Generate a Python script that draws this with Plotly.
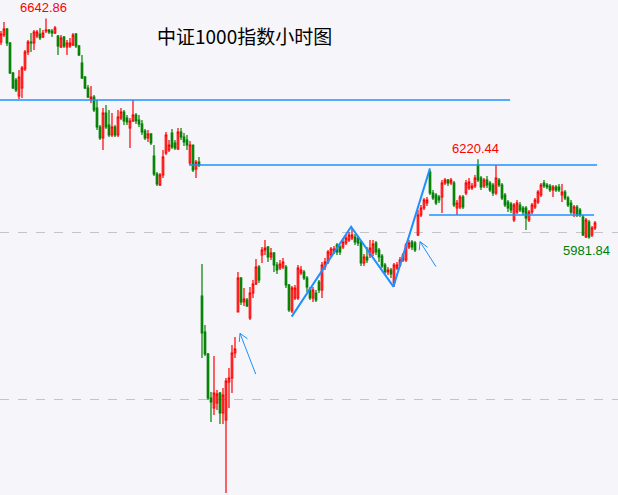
import plotly.graph_objects as go

# ---------------- data (hourly candles, CSI 1000) ----------------
open_ = [
    6572, 6593, 6611, 6569, 6479, 6458, 6410, 6434, 6491, 6542,
    6572, 6569, 6590, 6596, 6587, 6605, 6608, 6605, 6599, 6590,
    6557, 6587, 6557, 6560, 6563, 6596, 6560, 6509, 6467, 6434,
    6401, 6407, 6374, 6317, 6284, 6359, 6323, 6293, 6317, 6293,
    6344, 6362, 6344, 6314, 6335, 6353, 6338, 6326, 6305, 6284,
    6296, 6230, 6176, 6143, 6173, 6239, 6248, 6299, 6269, 6251,
    6302, 6287, 6278, 6209, 6263, 6191, 6212, 5810, 5702, 5636,
    5504, 5474, 5489, 5519, 5459, 5438, 5552, 5564, 5639, 5762,
    5864, 5792, 5798, 5744, 5819, 5846, 5897, 5933, 5948, 5957,
    5927, 5939, 5903, 5894, 5897, 5897, 5843, 5765, 5804, 5804,
    5879, 5882, 5864, 5831, 5804, 5819, 5852, 5828, 5897, 5912,
    5933, 5942, 5963, 5957, 5957, 5969, 5978, 5984, 5987, 5984,
    5972, 5909, 5927, 5933, 5939, 5969, 5948, 5930, 5903, 5882,
    5888, 5849, 5894, 5903, 5918, 5918, 5957, 5972, 5969, 5993,
    6053, 6074, 6089, 6182, 6119, 6113, 6107, 6107, 6149, 6158,
    6149, 6149, 6074, 6077, 6107, 6119, 6134, 6134, 6140, 6203,
    6164, 6140, 6158, 6149, 6143, 6119, 6158, 6143, 6113, 6092,
    6086, 6038, 6062, 6083, 6074, 6074, 6038, 6062, 6077, 6092,
    6113, 6149, 6143, 6140, 6128, 6137, 6137, 6113, 6122, 6104,
    6089, 6059, 6077, 6068, 6047, 5987, 6032, 5993, 6014,
]
high = [
    6605, 6632, 6614, 6572, 6482, 6464, 6488, 6500, 6548, 6578,
    6599, 6608, 6608, 6614, 6608, 6642.86, 6611, 6611, 6620, 6593,
    6593, 6590, 6578, 6584, 6599, 6599, 6563, 6533, 6470, 6443,
    6440, 6413, 6398, 6323, 6374, 6383, 6368, 6359, 6323, 6368,
    6374, 6368, 6353, 6344, 6398, 6359, 6353, 6338, 6311, 6308,
    6299, 6263, 6182, 6179, 6248, 6302, 6278, 6311, 6278, 6314,
    6314, 6299, 6293, 6275, 6263, 6218, 6227, 5906, 5723, 5639,
    5522, 5630, 5528, 5522, 5534, 5564, 5594, 5663, 5687, 5882,
    5867, 5834, 5804, 5837, 5858, 5921, 5903, 5957, 5978, 5960,
    5954, 5942, 5912, 5918, 5924, 5903, 5846, 5840, 5843, 5903,
    5900, 5888, 5870, 5837, 5837, 5828, 5858, 5912, 5924, 5948,
    5957, 5960, 5969, 5963, 5984, 5993, 6002, 6014, 5996, 5990,
    5978, 5936, 5957, 5978, 5978, 5975, 5954, 5936, 5909, 5897,
    5894, 5909, 5912, 5927, 5939, 5969, 5978, 5978, 5975, 6068,
    6083, 6104, 6107, 6188, 6128, 6119, 6113, 6158, 6164, 6161,
    6164, 6155, 6098, 6113, 6113, 6158, 6164, 6149, 6173, 6220.44,
    6170, 6164, 6170, 6155, 6149, 6203, 6164, 6149, 6119, 6098,
    6092, 6089, 6098, 6092, 6080, 6080, 6068, 6089, 6104, 6128,
    6149, 6158, 6149, 6146, 6143, 6143, 6146, 6146, 6128, 6110,
    6098, 6083, 6083, 6074, 6053, 6044, 6038, 6020, 6035,
]
low = [
    6563, 6587, 6560, 6476, 6431, 6422, 6401, 6404, 6485, 6533,
    6542, 6548, 6584, 6578, 6584, 6599, 6596, 6587, 6596, 6533,
    6554, 6554, 6533, 6554, 6560, 6554, 6530, 6461, 6431, 6404,
    6389, 6362, 6308, 6278, 6248, 6311, 6287, 6287, 6287, 6287,
    6338, 6323, 6323, 6254, 6332, 6326, 6317, 6293, 6278, 6272,
    6263, 6170, 6140, 6140, 6164, 6233, 6242, 6251, 6248, 6248,
    6278, 6260, 6248, 6203, 6182, 6164, 6197, 5624, 5630, 5498,
    5432, 5453, 5468, 5426, 5426, 5219, 5474, 5519, 5624, 5762,
    5783, 5780, 5777, 5738, 5804, 5843, 5849, 5909, 5933, 5912,
    5918, 5882, 5876, 5888, 5891, 5834, 5762, 5759, 5798, 5798,
    5873, 5858, 5822, 5798, 5792, 5792, 5819, 5804, 5888, 5906,
    5927, 5936, 5933, 5933, 5951, 5963, 5972, 5978, 5963, 5960,
    5900, 5900, 5909, 5924, 5930, 5933, 5912, 5894, 5876, 5873,
    5864, 5837, 5888, 5897, 5912, 5912, 5951, 5948, 5942, 5990,
    6047, 6068, 6080, 6113, 6098, 6083, 6089, 6059, 6143, 6140,
    6143, 6077, 6053, 6071, 6071, 6113, 6128, 6128, 6134, 6152,
    6128, 6134, 6134, 6122, 6110, 6113, 6137, 6098, 6077, 6062,
    6059, 6032, 6056, 6062, 6053, 6008, 6032, 6056, 6071, 6086,
    6107, 6134, 6131, 6122, 6107, 6122, 6122, 6092, 6098, 6077,
    6056, 6047, 6047, 6047, 5990, 5984, 5981.84, 5987, 6008,
]
close = [
    6596, 6611, 6569, 6479, 6434, 6428, 6467, 6494, 6542, 6572,
    6569, 6602, 6602, 6584, 6599, 6608, 6602, 6599, 6614, 6560,
    6584, 6560, 6569, 6569, 6593, 6560, 6533, 6464, 6434, 6407,
    6407, 6368, 6317, 6284, 6359, 6317, 6293, 6317, 6293, 6347,
    6362, 6335, 6332, 6335, 6353, 6335, 6326, 6302, 6284, 6296,
    6269, 6176, 6146, 6173, 6227, 6293, 6263, 6257, 6254, 6302,
    6287, 6272, 6263, 6263, 6188, 6212, 6203, 5699, 5636, 5504,
    5492, 5519, 5516, 5459, 5513, 5555, 5564, 5639, 5651, 5864,
    5792, 5801, 5780, 5819, 5846, 5897, 5858, 5948, 5954, 5927,
    5939, 5903, 5888, 5906, 5912, 5843, 5768, 5834, 5834, 5894,
    5888, 5864, 5837, 5804, 5828, 5798, 5828, 5903, 5912, 5942,
    5951, 5951, 5942, 5942, 5972, 5984, 5993, 5993, 5972, 5969,
    5909, 5927, 5918, 5954, 5966, 5942, 5927, 5900, 5882, 5888,
    5876, 5903, 5903, 5918, 5933, 5963, 5969, 5957, 5948, 6053,
    6074, 6098, 6098, 6119, 6104, 6089, 6098, 6149, 6158, 6149,
    6158, 6083, 6089, 6107, 6077, 6149, 6152, 6140, 6164, 6158,
    6137, 6158, 6143, 6128, 6119, 6164, 6143, 6104, 6083, 6074,
    6068, 6083, 6089, 6068, 6062, 6044, 6062, 6083, 6098, 6122,
    6143, 6140, 6137, 6128, 6137, 6128, 6128, 6122, 6104, 6083,
    6062, 6077, 6053, 6053, 5993, 6038, 5987, 6014, 6029,
]
bars = list(range(len(close)))

title_text = "中证1000指数小时图"
grid_levels = [5500, 6000]

# hand-drawn analysis marks: horizontal levels (price, from bar, to bar)
levels = [(6398, -0.4, 169.7), (6203, 62.7, 198.7), (6053, 142.7, 197.7)]
wave_x = [96.9, 116.7, 130.8, 143.0]
wave_y = [5748, 6018, 5838, 6193]
arrow_tips = [(79.67, 5698, 15.7, 40.7), (139.67, 5973, 16.0, 25.0)]

BG = "#F5F5FA"
RED = "#FF0000"
GREEN = "#008000"
BLUE = "#1E90FF"

fig = go.Figure()
fig.add_trace(go.Candlestick(
    x=bars, open=open_, high=high, low=low, close=close,
    increasing=dict(line=dict(color=RED, width=1.2), fillcolor=BG),
    decreasing=dict(line=dict(color=GREEN, width=1.2), fillcolor=GREEN),
    whiskerwidth=0, showlegend=False, hoverinfo="skip",
))
fig.add_trace(go.Scatter(x=wave_x, y=wave_y, mode="lines",
                         line=dict(color=BLUE, width=2), showlegend=False,
                         hoverinfo="skip"))

shapes = []
for price, x0, x1 in levels:
    shapes.append(dict(type="line", xref="x", yref="y", x0=x0, x1=x1,
                       y0=price, y1=price, line=dict(color=BLUE, width=1.4)))
for tx, ty, dx, dy in arrow_tips:
    path = f"M {dx},{-dy} L 0,0 M -0.7,-8.5 L 0,0 L 7.5,-5.5"
    shapes.append(dict(type="path", xref="x", yref="y",
                       xsizemode="pixel", ysizemode="pixel",
                       xanchor=tx, yanchor=ty, path=path,
                       line=dict(color=BLUE, width=1)))

i_hi = high.index(max(high))
i_mid = 159
i_lo = len(low) - 3
annotations = [
    dict(x=i_hi, y=high[i_hi], text=f"{high[i_hi]:.2f}", showarrow=False,
         xanchor="center", yanchor="bottom", xshift=-2, yshift=1,
         font=dict(family="Liberation Sans", size=13, color=RED)),
    dict(x=i_mid, y=high[i_mid], text=f"{high[i_mid]:.2f}", showarrow=False,
         xanchor="center", yanchor="bottom", xshift=-2, yshift=1,
         font=dict(family="Liberation Sans", size=13, color=RED)),
    dict(x=i_lo, y=low[i_lo], text=f"{low[i_lo]:.2f}", showarrow=False,
         xanchor="center", yanchor="top", xshift=-2, yshift=-2,
         font=dict(family="Liberation Sans", size=13, color=GREEN)),
    dict(x=0.395, y=0.929, xref="paper", yref="paper", text=title_text,
         showarrow=False, xanchor="center", yanchor="middle",
         font=dict(family="Noto Sans CJK SC", size=19, color="#000000")),
]

fig.update_layout(
    width=618, height=495,
    margin=dict(l=0, r=0, t=0, b=0),
    paper_bgcolor=BG, plot_bgcolor=BG,
    shapes=shapes, annotations=annotations,
    xaxis=dict(range=[-0.33, 205.67], visible=False,
               rangeslider=dict(visible=False), fixedrange=True),
    yaxis=dict(range=[5213, 6698], showticklabels=False, zeroline=False,
               showline=False, tickvals=grid_levels, showgrid=True,
               gridcolor="#C4C4C8", gridwidth=1, griddash="dash",
               fixedrange=True),
)
fig.write_html(
    "out.html",
    config={"displayModeBar": False, "staticPlot": True},
    post_script="document.body.style.margin='0';document.body.style.padding='0';"
                "document.body.style.overflow='hidden';",
)
